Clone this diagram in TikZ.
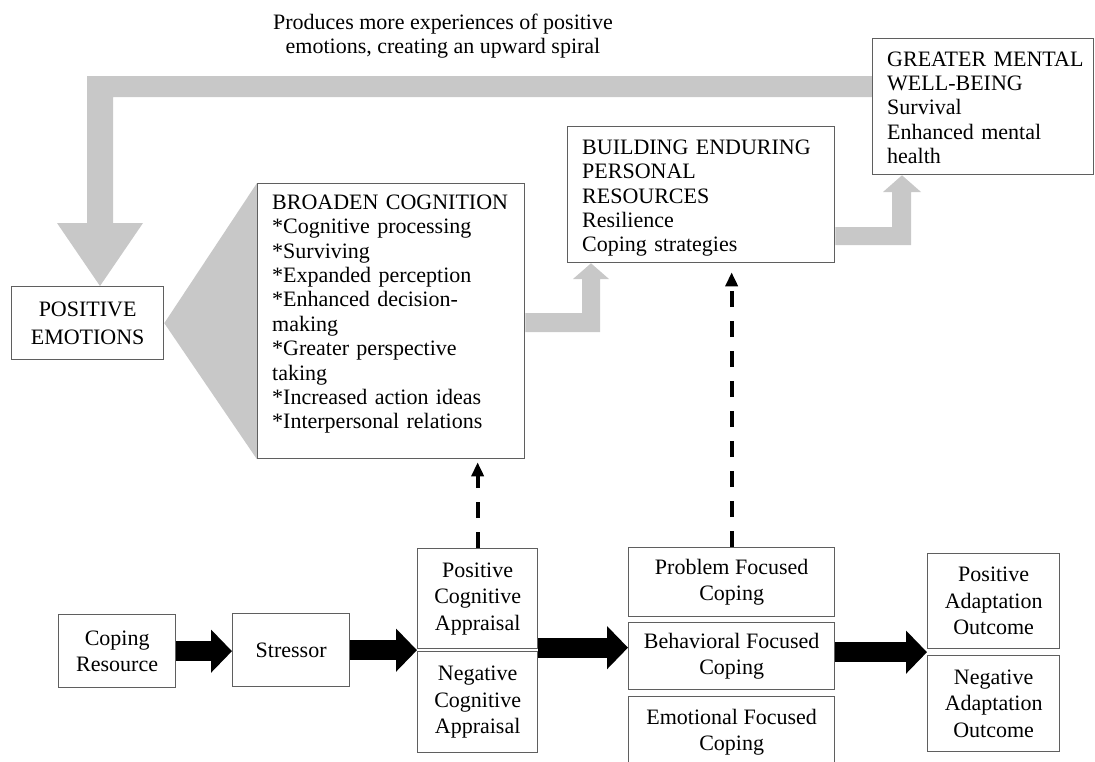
\documentclass[tikz,border=0pt]{standalone}
\usepackage{fontspec}
\setmainfont{Liberation Serif}
\usetikzlibrary{arrows.meta,calc}
\definecolor{garrow}{RGB}{200,200,200}
\definecolor{bord}{RGB}{95,95,95}
\pgfdeclarelayer{bg}
\pgfdeclarelayer{canvas}
\pgfsetlayers{canvas,bg,main}
\begin{document}
\begin{tikzpicture}[x=1pt,y=-1pt,
  every node/.style={font=\fontsize{22}{24.4}\selectfont},
  box/.style={draw=bord,line width=1.3pt,fill=white,rectangle,inner sep=0pt,anchor=north west},
  cbox/.style={box,align=center,font=\fontsize{22}{26.5}\selectfont},
  txt/.style={anchor=north west,inner sep=0pt,align=left,text width=#1},
  blk/.style={line width=20pt,-{Triangle[length=21pt,width=42pt]}},
  dsh/.style={line width=4pt,dash pattern=on 16pt off 14pt,-{Triangle[length=14pt,width=12pt]}},
  gray arrow/.style={fill=garrow}
]
\useasboundingbox (0,0) rectangle (1095,761);
\begin{pgfonlayer}{canvas}
\fill[white] (0,0) rectangle (1095,761);
\end{pgfonlayer}

% title
\node[align=center,font=\fontsize{22}{24}\selectfont] (title) at (443,36)
  {Produces more experiences of positive\\emotions, creating an upward spiral};

% top boxes
\node[box,minimum width=152pt,minimum height=73pt,align=center,font=\fontsize{22}{27.5}\selectfont] (pe) at (11,286) {POSITIVE\\EMOTIONS};
\node[box,minimum width=267pt,minimum height=275pt] (bc) at (257,183) {};
\node[txt=245pt] (bct) at (272,192) {\strut BROADEN COGNITION\\{*}Cognitive processing\\{*}Surviving\\{*}Expanded perception\\{*}Enhanced decision-\\making\\{*}Greater perspective\\taking\\{*}Increased action ideas\\{*}Interpersonal relations};
\node[box,minimum width=267pt,minimum height=136pt] (bd) at (567,126) {};
\node[txt=245pt] (bdt) at (582,137) {\strut BUILDING ENDURING\\PERSONAL\\RESOURCES\\Resilience\\Coping strategies};
\node[box,minimum width=221pt,minimum height=136pt] (gm) at (872,38) {};
\node[txt=205pt,font=\fontsize{22}{24.3}\selectfont] (gmt) at (887,49) {\strut GREATER MENTAL\\WELL-BEING\\Survival\\Enhanced mental\\health};

% bottom boxes
\node[cbox,minimum width=117pt,minimum height=73pt] (cr) at (58,614) {Coping\\Resource};
\node[cbox,minimum width=117pt,minimum height=73pt] (st) at (232,613) {Stressor};
\node[cbox,minimum width=120pt,minimum height=100pt] (apU) at (417,548) {Positive\\Cognitive\\Appraisal};
\node[cbox,minimum width=120pt,minimum height=101pt] (apL) at (417,651) {Negative\\Cognitive\\Appraisal};
\node[cbox,minimum width=206pt,minimum height=69pt] (pf) at (628,547) {Problem Focused\\Coping};
\node[cbox,minimum width=206pt,minimum height=67pt] (bh) at (628,622) {Behavioral Focused\\Coping};
\node[cbox,minimum width=206pt,minimum height=71pt] (ef) at (628,696) {Emotional Focused\\Coping};
\node[cbox,minimum width=132pt,minimum height=95pt] (po) at (927,553) {Positive\\Adaptation\\Outcome};
\node[cbox,minimum width=132pt,minimum height=96pt] (ne) at (927,655) {Negative\\Adaptation\\Outcome};

% gray arrows (behind the boxes)
\begin{pgfonlayer}{bg}
\fill[gray arrow] (pe.east) -- (bc.north west) -- (bc.south west) -- cycle;
\fill[gray arrow] (gm.west |- 0,76) -- (87,76) -- (87,223) -- (57,223) -- (pe.north -| 100,0)
  -- (143,223) -- (113,223) -- (113,97) -- (gm.west |- 0,97) -- cycle;
\fill[gray arrow] (bc.east |- 0,313) -- (582,313) -- (582,279) -- (573,279) -- (bd.south -| 591,0)
  -- (609,279) -- (600,279) -- (600,332) -- (bc.east |- 0,332) -- cycle;
\fill[gray arrow] (bd.east |- 0,227) -- (892,227) -- (892,192) -- (883,192) -- (gm.south -| 902,0)
  -- (921,192) -- (911,192) -- (911,245) -- (bd.east |- 0,245) -- cycle;
\end{pgfonlayer}

% dashed arrows
\draw[dsh,shorten >=3pt] (apU.north) -- (apU.north |- bc.south);
\draw[dsh,shorten >=9pt] (pf.north) -- (pf.north |- bd.south);

% black block arrows
\draw[blk] (cr.east) -- (cr.east -| st.west);
\coordinate (apmid) at ($(apU.south west)!0.5!(apL.north west)$);
\draw[blk] (apmid -| st.east) -- (apmid);
\coordinate (a3) at ([yshift=2.5pt]apmid);
\draw[blk] (a3 -| apU.east) -- (a3 -| bh.west);
\coordinate (outmid) at ($(po.south west)!0.5!(ne.north west)$);
\draw[blk] (outmid -| bh.east) -- (outmid);
\end{tikzpicture}
\end{document}
